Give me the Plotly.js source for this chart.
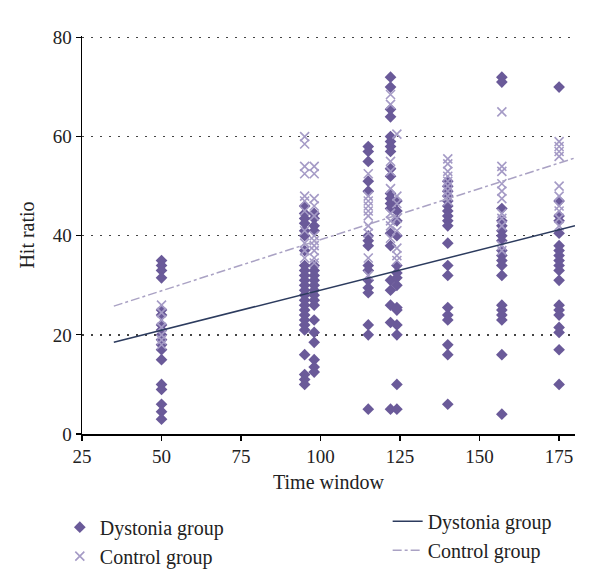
<!DOCTYPE html>
<html>
<head>
<meta charset="utf-8">
<script src="https://cdn.plot.ly/plotly-3.0.1.min.js"></script>
<style>html,body{margin:0;padding:0;background:#fff;}#chart{width:600px;height:588px;}</style>
</head>
<body>
<div id="chart"></div>
<script>
// Time windows (x categories)
const timeWindows = [50, 95, 98, 115, 122, 124, 140, 157, 175];

// Dystonia group hit ratios per time window
const dyst50  = [35, 34, 33, 31.5, 25, 24, 22, 21, 20, 19, 18, 17, 15, 10, 9, 6, 4.5, 3];
const dyst95  = [46, 44.5, 43.5, 42.5, 41, 40, 37, 34, 33, 32, 31, 30, 29, 28, 27, 26, 25, 24, 23, 22, 21, 16, 12, 11, 10];
const dyst98  = [44.5, 43.5, 42, 41, 34, 33, 32, 31, 30, 29, 28, 27, 26, 23, 20.5, 18.5, 15, 13.5, 12.5];
const dyst115 = [58, 57, 55, 51, 49, 40, 39, 38, 34, 33, 31, 29.5, 28.5, 22, 20, 5];
const dyst122 = [72, 70, 65.5, 64, 60, 59, 58, 57, 53.5, 52, 48.5, 47.5, 46.5, 45.5, 40.5, 38, 31, 29, 26, 22.5, 5];
const dyst124 = [47, 45, 43, 40, 34, 32.5, 31.5, 30, 25.5, 25, 22, 20, 10, 5];
const dyst140 = [51, 50, 49, 48, 47, 46, 45, 44, 43, 42, 38.5, 34, 32, 25.5, 24, 23, 18, 16, 6];
const dyst157 = [72, 71, 45.5, 43, 42, 41, 40, 39, 37, 36, 35, 34, 32, 26, 25, 24, 23, 16, 4];
const dyst175 = [70, 47, 44, 43, 40.5, 38, 37, 36, 35, 34, 33, 31, 26, 25, 24, 21.5, 20.5, 17, 10];

// Control group hit ratios per time window
const ctrl50  = [26, 24.5, 23, 21.5, 20, 19, 18];
const ctrl95  = [60, 58.5, 54, 52.5, 48, 47, 45, 41, 38.5, 37, 35.5];
const ctrl98  = [54, 52.5, 47.5, 46, 44, 40, 39, 38, 37, 35.5, 34.5];
const ctrl115 = [52.5, 48, 47, 46, 45, 44, 42, 40.5, 35.5, 32];
const ctrl122 = [68.5, 66.5, 55, 53, 49.5, 44.5, 43, 42, 39.5];
const ctrl124 = [60.5, 48, 46.5, 43.5, 41, 37.5, 36, 35];
const ctrl140 = [55.5, 54.5, 53, 52, 51, 50, 49, 48, 47];
const ctrl157 = [65, 54, 53, 50.5, 49, 47.5, 44.5, 43.5, 42, 38, 37];
const ctrl175 = [59, 58, 57, 56, 50, 48, 46, 45, 43.5, 42];

// Linear trend lines (endpoints)
const trendX = [35, 180];
const dystTrend = [18.5, 42];
const ctrlTrend = [25.8, 55.7];

// Axis ticks
const xTicks = [25, 50, 75, 100, 125, 150, 175];
const yTicks = [0, 20, 40, 60, 80];

const dystGroups = [dyst50, dyst95, dyst98, dyst115, dyst122, dyst124, dyst140, dyst157, dyst175];
const ctrlGroups = [ctrl50, ctrl95, ctrl98, ctrl115, ctrl122, ctrl124, ctrl140, ctrl157, ctrl175];

function flatten(groups) {
  const xs = [], ys = [];
  groups.forEach((g, i) => g.forEach(v => { xs.push(timeWindows[i]); ys.push(v); }));
  return {xs, ys};
}
const D = flatten(dystGroups);
const C = flatten(ctrlGroups);

const FONT = 'Liberation Serif, Times New Roman, serif';

const traces = [
  {
    x: D.xs, y: D.ys, type: 'scatter', mode: 'markers', name: 'Dystonia group',
    marker: {symbol: 'diamond', size: 9, color: '#6a5a99'},
    legend: 'legend', cliponaxis: false
  },
  {
    x: C.xs, y: C.ys, type: 'scatter', mode: 'markers', name: 'Control group',
    marker: {symbol: 'x-thin', size: 9, color: '#a59bc6', line: {color: '#a59bc6', width: 1.6}},
    legend: 'legend', cliponaxis: false
  },
  {
    x: trendX, y: dystTrend, type: 'scatter', mode: 'lines', name: 'Dystonia group',
    line: {color: '#2c3b5e', width: 1.5}, legend: 'legend2'
  },
  {
    x: trendX, y: ctrlTrend, type: 'scatter', mode: 'lines', name: 'Control group',
    line: {color: '#aaa2c4', width: 1.5, dash: 'dashdot'}, legend: 'legend2'
  }
];

const layout = {
  width: 600, height: 588,
  margin: {l: 82, r: 25, t: 36, b: 152},
  paper_bgcolor: '#fff', plot_bgcolor: '#fff',
  font: {family: FONT, size: 19, color: '#222'},
  showlegend: true,
  xaxis: {
    range: [25, 180], tickvals: xTicks, ticktext: xTicks.map(String),
    showline: true, linecolor: '#000', linewidth: 1.5,
    ticks: 'outside', ticklen: 5, tickcolor: '#000', tickwidth: 1.2,
    showgrid: false, zeroline: false,
    tickfont: {family: FONT, size: 19, color: '#222'},
    title: {text: 'Time window', font: {family: FONT, size: 20, color: '#222'}, standoff: 8}
  },
  yaxis: {
    range: [0, 80.3], tickvals: yTicks, ticktext: yTicks.map(String),
    showline: true, linecolor: '#000', linewidth: 1.5,
    ticks: 'outside', ticklen: 5, tickcolor: '#000', tickwidth: 1.2,
    showgrid: true, gridcolor: '#444', gridwidth: 1.5, griddash: '2px,7px',
    zeroline: false,
    tickfont: {family: FONT, size: 19, color: '#222'},
    title: {text: 'Hit ratio', font: {family: FONT, size: 20, color: '#222'}, standoff: 12}
  },
  legend: {
    x: -0.045, y: -0.185, xanchor: 'left', yanchor: 'top',
    bgcolor: 'rgba(0,0,0,0)', font: {family: FONT, size: 20, color: '#222'},
    itemwidth: 30, tracegroupgap: 0
  },
  legend2: {
    x: 0.62, y: -0.17, xanchor: 'left', yanchor: 'top',
    bgcolor: 'rgba(0,0,0,0)', font: {family: FONT, size: 20, color: '#222'},
    itemwidth: 30, tracegroupgap: 0
  }
};

Plotly.newPlot('chart', traces, layout, {displayModeBar: false, staticPlot: true});
</script>
</body>
</html>
